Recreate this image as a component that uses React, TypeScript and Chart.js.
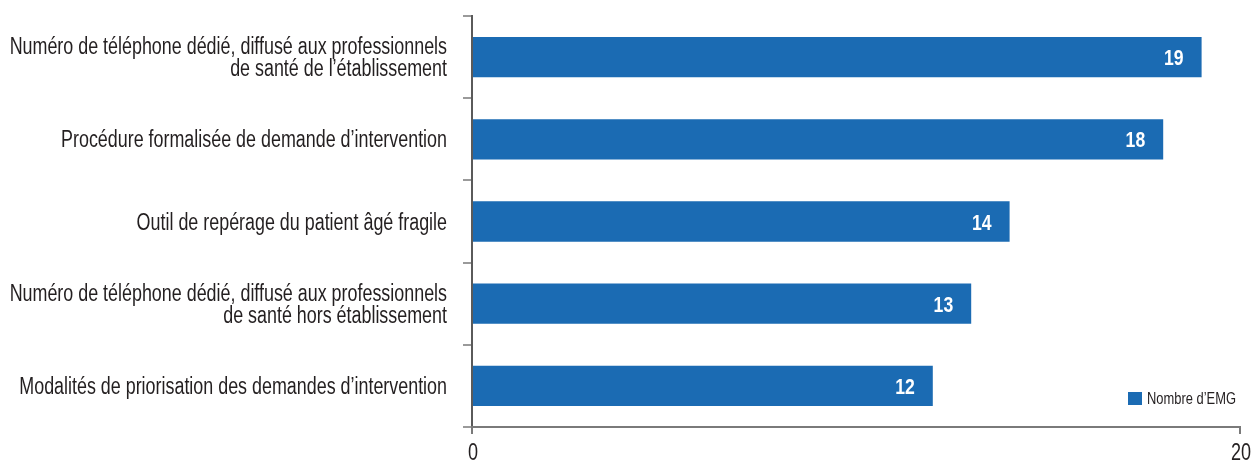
import React, { useEffect, useRef } from 'react';
import { Chart, registerables } from 'chart.js';

Chart.register(...registerables);

const categories: string[][] = [
  ['Numéro de téléphone dédié, diffusé aux professionnels', 'de santé de l’établissement'],
  ['Procédure formalisée de demande d’intervention'],
  ['Outil de repérage du patient âgé fragile'],
  ['Numéro de téléphone dédié, diffusé aux professionnels', 'de santé hors établissement'],
  ['Modalités de priorisation des demandes d’intervention'],
];
const values: number[] = [19, 18, 14, 13, 12];
const seriesLabel = 'Nombre d’EMG';
const xTicks: number[] = [0, 20];

const FONT = "'Liberation Sans', Arial, sans-serif";
const BAR = '#1b6bb3';
const Y_AXIS = '#5a5a5a';
const X_AXIS = '#7a7a7a';
const TICK = '#9a9a9a';
const TEXT = '#231f20';

function drawText(
  ctx: CanvasRenderingContext2D,
  text: string,
  x: number,
  y: number,
  align: CanvasTextAlign,
  font: string,
  color: string,
  sx: number,
) {
  ctx.save();
  ctx.translate(x, y);
  ctx.scale(sx, 1);
  ctx.font = font;
  ctx.fillStyle = color;
  ctx.textAlign = align;
  ctx.textBaseline = 'alphabetic';
  ctx.fillText(text, 0, 0);
  ctx.restore();
}

const textPlugin = {
  id: 'textPlugin',
  afterDraw(chart: any) {
    const { ctx, chartArea } = chart;
    const yScale = chart.scales.y;
    const xScale = chart.scales.x;
    const labelFont = `23px ${FONT}`;
    // category labels
    categories.forEach((lines, i) => {
      const cy = yScale.getPixelForTick(i);
      const lh = 22;
      const n = lines.length;
      lines.forEach((line, j) => {
        const ly = cy + (j - (n - 1) / 2) * lh + 8;
        drawText(ctx, line, chartArea.left - 25, ly, 'right', labelFont, TEXT, 0.778);
      });
    });
    // x tick labels
    xTicks.forEach((v) => {
      const px = xScale.getPixelForValue(v);
      drawText(ctx, String(v), px + 1, chartArea.bottom + 33, 'center', labelFont, TEXT, 0.785);
    });
    // value labels
    const meta = chart.getDatasetMeta(0);
    meta.data.forEach((el: any, i: number) => {
      drawText(ctx, String(values[i]), el.x - 18, el.y + 8, 'right', `bold 22px ${FONT}`, '#ffffff', 0.8);
    });
    // legend
    const lx = chartArea.right - 112;
    const ly = chartArea.bottom - 35;
    ctx.save();
    ctx.fillStyle = BAR;
    ctx.fillRect(lx, ly, 14, 13);
    ctx.restore();
    drawText(ctx, seriesLabel, lx + 19, ly + 12, 'left', `17px ${FONT}`, TEXT, 0.76);
  },
};

export default function App() {
  const ref = useRef<HTMLCanvasElement>(null);
  useEffect(() => {
    if (!ref.current) return;
    const chart = new Chart(ref.current, {
      type: 'bar',
      data: {
        labels: categories,
        datasets: [
          {
            label: seriesLabel,
            data: values,
            backgroundColor: BAR,
            borderWidth: 0,
            categoryPercentage: 0.98,
            barPercentage: 0.5,
          },
        ],
      },
      options: {
        indexAxis: 'y',
        animation: false,
        responsive: true,
        maintainAspectRatio: false,
        layout: { padding: { top: 16, right: 12, left: 0, bottom: 0 } },
        plugins: {
          legend: { display: false },
          tooltip: { enabled: false },
        },
        scales: {
          y: {
            afterFit: (s: any) => {
              s.width = 472;
            },
            border: { color: Y_AXIS, width: 2 },
            grid: {
              offset: true,
              drawOnChartArea: false,
              tickLength: 9,
              color: TICK,
              lineWidth: 2,
            },
            ticks: { display: false },
          },
          x: {
            min: xTicks[0],
            max: xTicks[xTicks.length - 1],
            afterFit: (s: any) => {
              s.height = 35;
            },
            border: { color: X_AXIS, width: 2 },
            grid: {
              drawOnChartArea: false,
              tickLength: 7,
              color: X_AXIS,
              lineWidth: 2,
            },
            ticks: { display: false, stepSize: 20 },
          },
        },
      },
      plugins: [textPlugin],
    });
    return () => chart.destroy();
  }, []);
  return (
    <div style={{ position: 'absolute', left: 0, top: 0, width: 1252, height: 462 }}>
      <canvas ref={ref} />
    </div>
  );
}
